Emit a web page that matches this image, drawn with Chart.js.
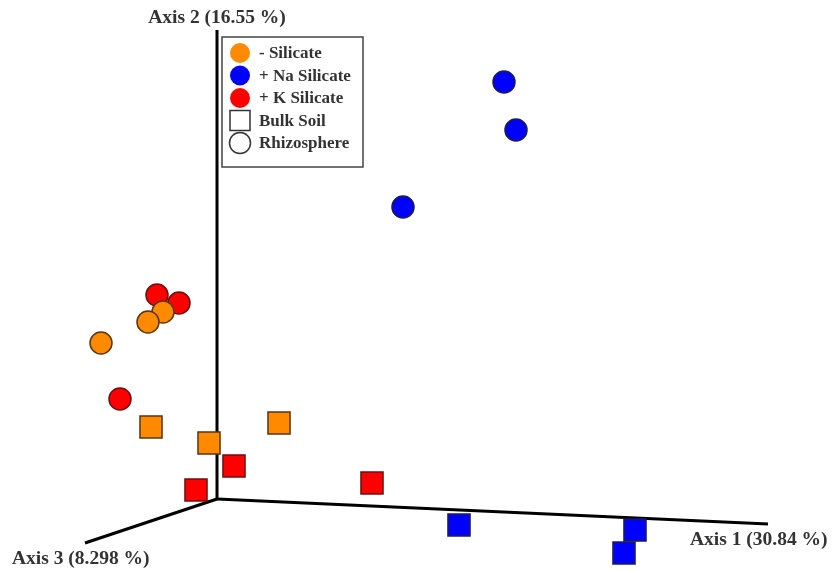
<!DOCTYPE html>
<html>
<head>
<meta charset="utf-8">
<script src="https://cdn.jsdelivr.net/npm/chart.js@4.4.0/dist/chart.umd.min.js"></script>
<style>
  body { margin: 0; background: #fff; }
  #wrap { width: 834px; height: 571px; }
</style>
</head>
<body>
<div id="wrap"><canvas id="pcoa" width="834" height="571"></canvas></div>
<script>
// projected PCoA positions (screen-plane units, y grows downward)
const orangeRhizo = [{x: 101, y: 343}, {x: 148, y: 322}, {x: 163, y: 312}]
const redRhizo = [{x: 157, y: 295}, {x: 179, y: 303}, {x: 120, y: 399}]
const blueRhizo = [{x: 504, y: 82}, {x: 516, y: 130}, {x: 403, y: 207}]
const orangeBulk = [{x: 151, y: 427}, {x: 209, y: 443}, {x: 279, y: 423}]
const redBulk = [{x: 234, y: 466}, {x: 196, y: 490}, {x: 372, y: 483}]
const blueBulk = [{x: 459, y: 525}, {x: 635, y: 530}, {x: 624, y: 553}]

const origin = {x: 217, y: 499}
const axisEnds = [{x: 768, y: 524}, {x: 217, y: 30}, {x: 85, y: 543}]
const axisNames = ['Axis 1 (30.84 %)', 'Axis 2 (16.55 %)', 'Axis 3 (8.298 %)']
const axisLabelPos = [{x: 690, y: 540, align: 'left'}, {x: 217, y: 18, align: 'center'}, {x: 12, y: 559, align: 'left'}]

const legendLabels = ['- Silicate', '+ Na Silicate', '+ K Silicate', 'Bulk Soil', 'Rhizosphere']

const ORANGE = '#FF8A00', BLUE = '#0000FF', RED = '#FF0000'

let ctx = document.getElementById('pcoa').getContext('2d')

let axisSets = axisEnds.map(function (end) {
    return {
        data: [origin, end],
        showLine: true,
        borderColor: '#000',
        borderWidth: 3,
        pointRadius: 0,
        order: 10
    }
})

function pts(data, color, edge, style) {
    return {
        data: data,
        backgroundColor: color,
        borderColor: edge,
        borderWidth: 1.5,
        pointStyle: style,
        pointRadius: style === 'rect' ? 15.6 : 11,
        order: 1
    }
}

const axisText = {
    id: 'axisText',
    afterDraw(chart) {
        let c = chart.ctx, xs = chart.scales.x, ys = chart.scales.y
        c.save()
        c.fillStyle = '#333'
        c.font = 'bold 19.5px "Liberation Serif", "Times New Roman", serif'
        c.textBaseline = 'middle'
        axisNames.forEach(function (name, i) {
            let p = axisLabelPos[i]
            c.textAlign = p.align
            c.fillText(name, xs.getPixelForValue(p.x), ys.getPixelForValue(p.y))
        })

        // legend box
        let bx = xs.getPixelForValue(222), by = ys.getPixelForValue(37)
        let bw = xs.getPixelForValue(363) - bx, bh = ys.getPixelForValue(167) - by
        c.fillStyle = '#fff'
        c.fillRect(bx, by, bw, bh)
        c.strokeStyle = '#444'
        c.lineWidth = 1.5
        c.strokeRect(bx, by, bw, bh)
        let fills = [ORANGE, BLUE, RED]
        c.font = 'bold 17px "Liberation Serif", "Times New Roman", serif'
        c.textAlign = 'left'
        legendLabels.forEach(function (lab, i) {
            let cy = by + 16 + i * 22.5
            let cx = bx + 18
            c.beginPath()
            if (i < 3) {
                c.arc(cx, cy, 10, 0, Math.PI * 2)
                c.fillStyle = fills[i]
                c.fill()
            } else if (i === 3) {
                c.strokeStyle = '#333'
                c.lineWidth = 1.5
                c.rect(cx - 10, cy - 10, 20, 20)
                c.stroke()
            } else {
                c.strokeStyle = '#333'
                c.lineWidth = 1.5
                c.arc(cx, cy, 10.5, 0, Math.PI * 2)
                c.stroke()
            }
            c.fillStyle = '#333'
            c.fillText(lab, bx + 37, cy + 1)
        })
        c.restore()
    }
}

let pcoaChart = new Chart(ctx, {
    type: 'scatter',
    data: {
        datasets: [
            pts(blueBulk, BLUE, '#1c1c55', 'rect'),
            pts(redBulk, RED, '#6a1010', 'rect'),
            pts(orangeBulk, ORANGE, '#5a3510', 'rect'),
            pts(blueRhizo, BLUE, '#1c1c55', 'circle'),
            pts(orangeRhizo.slice().reverse(), ORANGE, '#5a3510', 'circle'),
            pts(redRhizo, RED, '#6a1010', 'circle')
        ].concat(axisSets)
    },
    options: {
        responsive: false,
        animation: false,
        layout: { padding: 0, autoPadding: false },
        scales: {
            x: { type: 'linear', min: 0, max: 834, display: false },
            y: { type: 'linear', min: 0, max: 571, reverse: true, display: false }
        },
        plugins: {
            legend: { display: false },
            tooltip: { enabled: false }
        }
    },
    plugins: [axisText]
})
</script>
</body>
</html>
